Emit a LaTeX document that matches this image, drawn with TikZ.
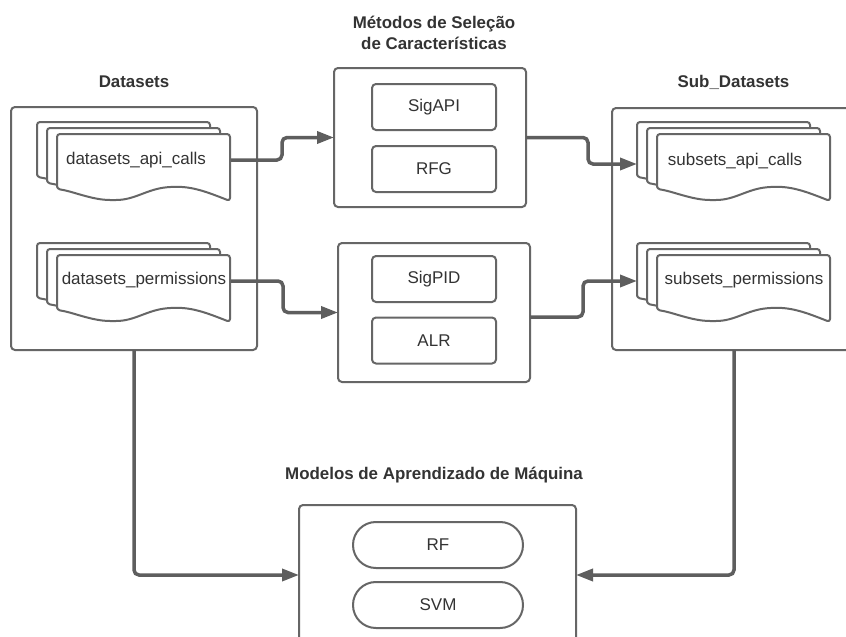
\documentclass[tikz,border=0pt]{standalone}
\usepackage{fontspec}
\setmainfont{Liberation Sans}
\usetikzlibrary{arrows.meta}
\definecolor{ln}{HTML}{666666}
\definecolor{ar}{HTML}{5E5E5E}
\definecolor{tx}{HTML}{333333}
\tikzset{
  box/.style={draw=ln, line width=2pt, rounded corners=4pt, fill=white, inner sep=0pt, outer sep=0pt},
  inbox/.style={box, minimum width=124pt, minimum height=46pt, text=tx, font=\fontsize{17}{20}\selectfont},
  pill/.style={box, rounded corners=22.9pt, minimum width=170pt, minimum height=46pt, text=tx, font=\fontsize{17}{20}\selectfont},
  sheet/.style={draw=ln, line width=2pt, fill=white, rounded corners=3pt, line join=round},
  lbl/.style={text=tx, inner sep=0pt, font=\fontsize{17}{20}\selectfont},
  ttl/.style={text=tx, inner sep=0pt, align=center, font=\bfseries\fontsize{16.9}{21}\selectfont},
  conn/.style={draw=ar, line width=3.5pt, rounded corners=5pt, -{Triangle[length=17pt,width=12pt]}},
}
\newcommand{\docsheet}[2]{%
  \path[sheet] (#1,#2+55) -- (#1,#2) -- (#1+173,#2) -- (#1+173,#2+67)
    .. controls (#1+150,#2+58) and (#1+135,#2+52) .. (#1+113,#2+53)
    .. controls (#1+90,#2+55) and (#1+78,#2+66) .. (#1+56,#2+66)
    .. controls (#1+35,#2+66) and (#1+15,#2+57) .. (#1,#2+55) -- cycle;}
\begin{document}
\begin{tikzpicture}[x=1pt,y=-1pt]
\useasboundingbox (0,0) rectangle (846,637);
\clip (0,0) rectangle (846,637);
\fill[white] (0,0) rectangle (846,637);

% titles
\node[ttl] (tds) at (134,82) {Datasets};
\node[ttl] (tsub) at (733.5,82) {Sub\_Datasets};
\node[ttl] (tfs) at (434,32.5) {Métodos de Seleção\\de Características};
\node[ttl] (tml) at (434,475) {Modelos de Aprendizado de Máquina};

% containers
\node[box, minimum width=246pt, minimum height=243pt] (ds) at (134,228.5) {};
\node[box, minimum width=192pt, minimum height=139pt] (fs1) at (430,137.5) {};
\node[box, minimum width=192pt, minimum height=139pt] (fs2) at (434,312.5) {};
\node[box, minimum width=258pt, minimum height=242pt] (sub) at (741,229) {};
\node[box, minimum width=277pt, minimum height=155pt] (ml) at (437.5,582.5) {};

% method boxes
\node[inbox] (sigapi) at (434,107) {SigAPI};
\node[inbox] (rfg) at (434,169) {RFG};
\node[inbox] (sigpid) at (434,279) {SigPID};
\node[inbox] (alr) at (434,340.5) {ALR};

% models
\node[pill] (rf) at (438,545) {RF};
\node[pill] (svm) at (438,605) {SVM};

% document stacks
\docsheet{37}{122}\docsheet{47}{128}\docsheet{57}{134}
\docsheet{37}{243}\docsheet{47}{249}\docsheet{57}{255}
\docsheet{637}{122}\docsheet{647}{128}\docsheet{657}{134}
\docsheet{637}{243}\docsheet{647}{249}\docsheet{657}{255}

\node[lbl] (dapi) at (136,160) {datasets\_api\_calls};
\node[lbl] (dperm) at (144,280) {datasets\_permissions};
\node[lbl] (sapi) at (735,161) {subsets\_api\_calls};
\node[lbl] (sperm) at (744,280) {subsets\_permissions};

% connector endpoints on sheet edges
\coordinate (dapiR) at (231,160);
\coordinate (dpermR) at (231,281);
\coordinate (sapiL) at (637,164);
\coordinate (spermL) at (637,281);
\coordinate (fs2R) at (530,317);
\coordinate (mlL) at (299,575);
\coordinate (mlR) at (576,575);

% connectors
\draw[conn] (dapiR) -- (282,160) -- (282,137.5) -- (fs1.west);
\draw[conn] (dpermR) -- (283,281) -- (283,312.5) -- (fs2.west);
\draw[conn] (fs1.east) -- (588,137.5) -- (588,164) -- (sapiL);
\draw[conn] (fs2R) -- (583,317) -- (583,281) -- (spermL);
\draw[conn] (ds.south) -- (134,575) -- (mlL);
\draw[conn] (734,350) -- (734,575) -- (mlR);
\end{tikzpicture}
\end{document}
